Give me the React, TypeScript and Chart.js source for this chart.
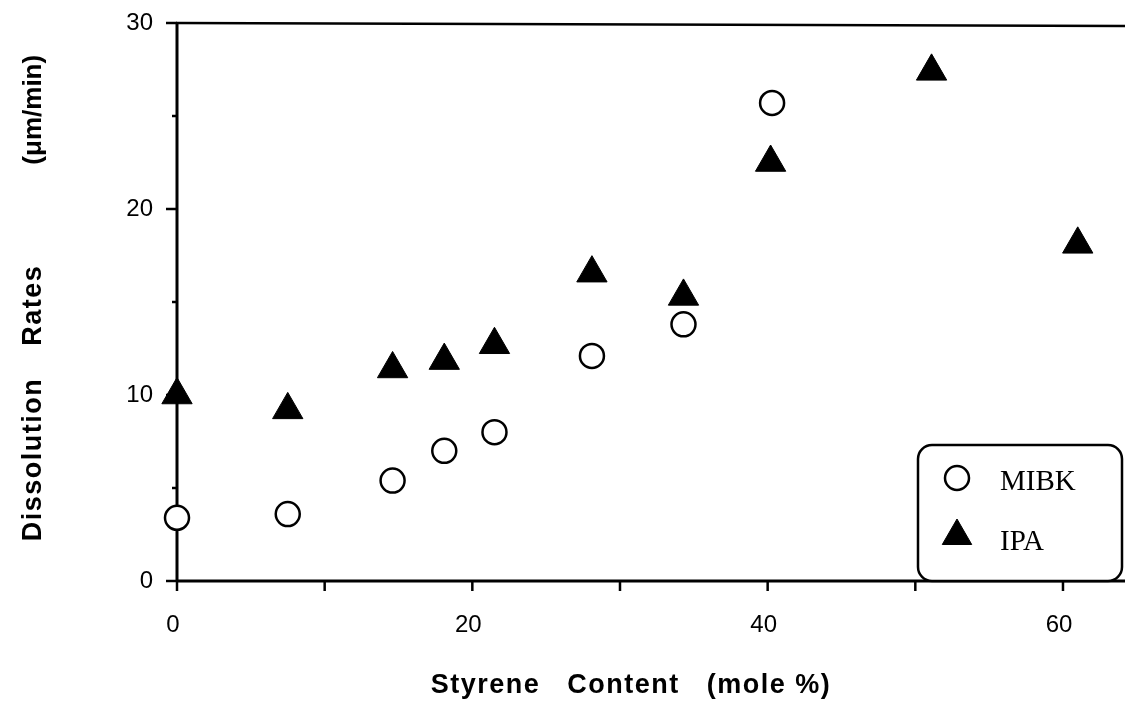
import React, { useEffect, useRef } from "react";
import { Chart, registerables } from "chart.js";

Chart.register(...registerables);

const MIBK_X = [0, 7.5, 14.6, 18.1, 21.5, 28.1, 34.3, 40.3];
const MIBK_Y = [3.4, 3.6, 5.4, 7.0, 8.0, 12.1, 13.8, 25.7];
const IPA_X = [0, 7.5, 14.6, 18.1, 21.5, 28.1, 34.3, 40.2, 51.1, 61.0];
const IPA_Y = [10.0, 9.2, 11.4, 11.85, 12.7, 16.55, 15.3, 22.5, 27.4, 18.1];
const SERIES_NAMES = ["MIBK", "IPA"];
const X_TITLE = "Styrene   Content   (mole %)";
const Y_TITLE_PARTS = ["Dissolution", "Rates", "(\u03bcm/min)"];
const X_LABEL_VALUES = [0, 20, 40, 60];
const Y_LABEL_VALUES = [0, 10, 20, 30];

const SANS = "'Liberation Sans', Arial, sans-serif";
const SERIF = "'Liberation Serif', 'Times New Roman', serif";

const framePlugin = {
  id: "frame",
  beforeDatasetsDraw(chart: any) {
    const { ctx, chartArea, scales } = chart;
    const xs = scales.x;
    const ys = scales.y;
    ctx.save();
    ctx.strokeStyle = "#000";
    ctx.lineWidth = 3;
    ctx.lineCap = "butt";
    ctx.beginPath();
    ctx.moveTo(chartArea.left, chartArea.top - 1);
    ctx.lineTo(chartArea.left, chartArea.bottom + 1);
    ctx.stroke();
    ctx.beginPath();
    ctx.moveTo(chartArea.left - 1, chartArea.bottom);
    ctx.lineTo(chartArea.right, chartArea.bottom);
    ctx.stroke();
    ctx.lineWidth = 2.5;
    ctx.beginPath();
    ctx.moveTo(chartArea.left - 1, chartArea.top);
    ctx.lineTo(chartArea.right, chartArea.top + 3);
    ctx.stroke();
    ys.ticks.forEach((t: any) => {
      const py = ys.getPixelForValue(t.value);
      const len = Y_LABEL_VALUES.includes(t.value) ? 11 : 5;
      ctx.beginPath();
      ctx.moveTo(chartArea.left - len, py);
      ctx.lineTo(chartArea.left, py);
      ctx.stroke();
    });
    xs.ticks.forEach((t: any) => {
      const px = xs.getPixelForValue(t.value);
      ctx.beginPath();
      ctx.moveTo(px, chartArea.bottom);
      ctx.lineTo(px, chartArea.bottom + 10);
      ctx.stroke();
    });
    ctx.restore();
  },
  afterDraw(chart: any) {
    const { ctx, chartArea } = chart;
    ctx.save();
    ctx.fillStyle = "#000";
    // x title
    ctx.font = `bold 27px ${SANS}`;
    (ctx as any).letterSpacing = "1.5px";
    ctx.textAlign = "center";
    ctx.textBaseline = "alphabetic";
    ctx.fillText(X_TITLE, 631, 693);

    // y title, drawn in parts along the rotated axis
    const fonts = [`bold 27px ${SANS}`, `bold 27px ${SANS}`, `bold 26px ${SANS}`];
    const spacing = ["1.5px", "1.5px", "0px"];
    const gaps = [32, 100];
    const widths = Y_TITLE_PARTS.map((p, i) => {
      ctx.font = fonts[i];
      (ctx as any).letterSpacing = spacing[i];
      return ctx.measureText(p).width;
    });
    const total = widths.reduce((a, b) => a + b, 0) + gaps[0] + gaps[1];
    ctx.save();
    ctx.translate(41, (chartArea.top + chartArea.bottom) / 2 - 4);
    ctx.rotate(-Math.PI / 2);
    ctx.textAlign = "left";
    let pos = -total / 2;
    Y_TITLE_PARTS.forEach((p, i) => {
      ctx.font = fonts[i];
      (ctx as any).letterSpacing = spacing[i];
      ctx.fillText(p, pos, 0);
      pos += widths[i] + (gaps[i] || 0);
    });
    ctx.restore();
    (ctx as any).letterSpacing = "0px";

    // legend box
    const bx = 918;
    const by = 445;
    const bw = chartArea.right - 3 - bx;
    const bh = chartArea.bottom - by;
    ctx.lineWidth = 2.5;
    ctx.strokeStyle = "#000";
    ctx.fillStyle = "#fff";
    ctx.beginPath();
    (ctx as any).roundRect(bx, by, bw, bh, 14);
    ctx.fill();
    ctx.stroke();

    const ds = chart.data.datasets;
    ctx.beginPath();
    ctx.arc(957, 478, 12, 0, Math.PI * 2);
    ctx.fillStyle = ds[0].backgroundColor;
    ctx.fill();
    ctx.lineWidth = ds[0].borderWidth;
    ctx.strokeStyle = ds[0].borderColor;
    ctx.stroke();
    const r = 17;
    const cx = 957;
    const cy = 536;
    ctx.beginPath();
    ctx.moveTo(cx, cy - r);
    ctx.lineTo(cx + Math.sin((2 * Math.PI) / 3) * r, cy + r / 2);
    ctx.lineTo(cx - Math.sin((2 * Math.PI) / 3) * r, cy + r / 2);
    ctx.closePath();
    ctx.fillStyle = ds[1].backgroundColor;
    ctx.fill();
    ctx.lineWidth = 1;
    ctx.strokeStyle = ds[1].borderColor;
    ctx.stroke();

    ctx.fillStyle = "#000";
    ctx.font = `29px ${SERIF}`;
    ctx.textAlign = "left";
    ctx.fillText(SERIES_NAMES[0], 1000, 490);
    ctx.fillText(SERIES_NAMES[1], 1000, 550);
    ctx.restore();
  },
};

export default function App() {
  const ref = useRef<HTMLCanvasElement | null>(null);

  useEffect(() => {
    document.body.style.margin = "0";
    const canvas = ref.current;
    if (!canvas) return;
    const chart = new Chart(canvas, {
      type: "scatter",
      data: {
        datasets: [
          {
            label: SERIES_NAMES[0],
            data: MIBK_X.map((x, i) => ({ x, y: MIBK_Y[i] })),
            pointStyle: "circle",
            pointRadius: 12,
            pointHoverRadius: 12,
            backgroundColor: "#fff",
            borderColor: "#000",
            borderWidth: 2.5,
            clip: false,
          },
          {
            label: SERIES_NAMES[1],
            data: IPA_X.map((x, i) => ({ x, y: IPA_Y[i] })),
            pointStyle: "triangle",
            pointRadius: 17.5,
            pointHoverRadius: 17.5,
            backgroundColor: "#000",
            borderColor: "#000",
            borderWidth: 1,
            clip: false,
          },
        ],
      },
      options: {
        responsive: false,
        devicePixelRatio: 1,
        animation: false,
        events: [],
        layout: { autoPadding: false, padding: { top: 23, left: 0, right: 0, bottom: 0 } },
        plugins: {
          legend: { display: false },
          tooltip: { enabled: false },
          title: { display: false },
        },
        scales: {
          x: {
            type: "linear",
            position: "bottom",
            min: 0,
            max: 64.2,
            grid: { display: false, drawTicks: false },
            border: { display: false },
            ticks: {
              stepSize: 10,
              includeBounds: false,
              autoSkip: false,
              maxRotation: 0,
              padding: 30,
              labelOffset: -4,
              color: "#000",
              font: { family: SANS, size: 24 },
              callback: (v: any) => (X_LABEL_VALUES.includes(Number(v)) ? String(v) : ""),
            },
            afterFit: (s: any) => {
              s.height = 120;
              s.paddingLeft = 0;
              s.paddingRight = 0;
              s.paddingTop = 0;
              s.paddingBottom = 0;
            },
          },
          y: {
            type: "linear",
            position: "left",
            min: 0,
            max: 30,
            grid: { display: false, drawTicks: false },
            border: { display: false },
            ticks: {
              stepSize: 5,
              autoSkip: false,
              padding: 24,
              color: "#000",
              font: { family: SANS, size: 24 },
              callback: (v: any) => (Y_LABEL_VALUES.includes(Number(v)) ? String(v) : ""),
            },
            afterFit: (s: any) => {
              s.width = 177;
              s.paddingLeft = 0;
              s.paddingRight = 0;
              s.paddingTop = 0;
              s.paddingBottom = 0;
            },
          },
        },
      },
      plugins: [framePlugin],
    });
    return () => chart.destroy();
  }, []);

  return (
    <div style={{ position: "fixed", left: 0, top: 0, width: 1125, height: 701, background: "#fff" }}>
      <canvas ref={ref} width={1125} height={701} style={{ width: 1125, height: 701, display: "block" }} />
    </div>
  );
}
